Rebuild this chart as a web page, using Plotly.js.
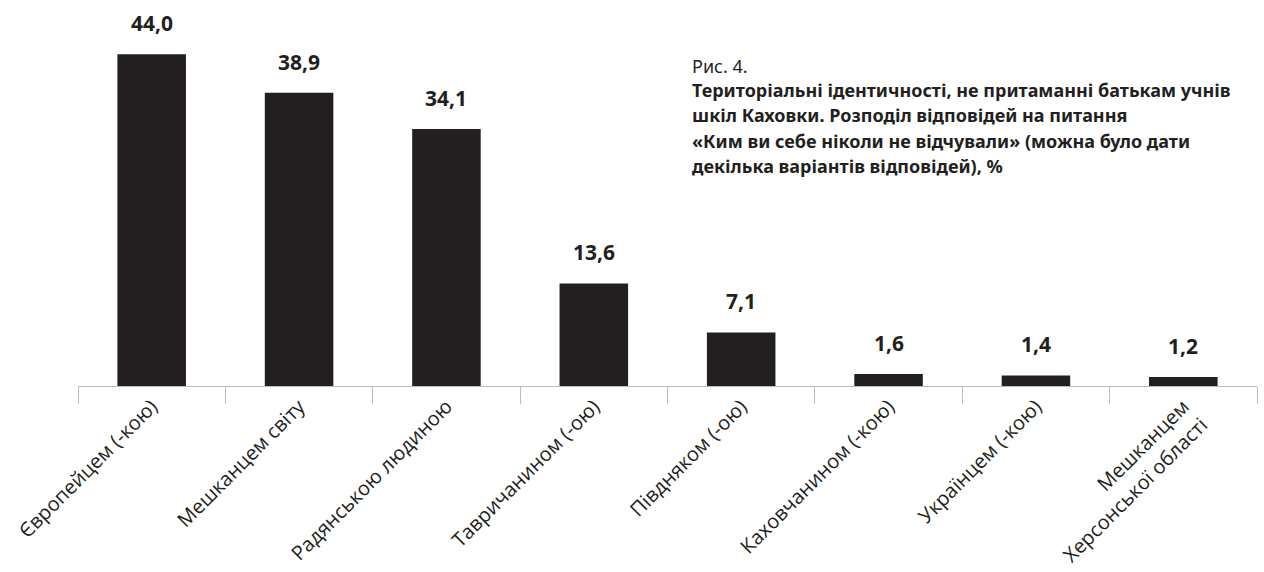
<!DOCTYPE html>
<html><head><meta charset="utf-8">
<script src="https://cdn.plot.ly/plotly-3.0.1.min.js"></script>
<style>body{margin:0;background:#fff}#chart{width:1264px;height:572px}</style>
</head><body><div id="chart"></div>
<script>
const categories = ["Європейцем (-кою)","Мешканцем світу","Радянською людиною","Тавричанином (-ою)","Півднякoм (-ою)".replace("o","\u043e"),"Каховчанином (-кою)","Українцем (-кою)","Мешканцем<br>Херсонської області"];
const values = [44.0, 38.9, 34.1, 13.6, 7.1, 1.6, 1.4, 1.2];
const valueLabels = ["44,0","38,9","34,1","13,6","7,1","1,6","1,4","1,2"];
const titleLines = ["Рис. 4.", "<b>Територіальні ідентичності, не притаманні батькам учнів</b>", "<b>шкіл Каховки. Розподіл відповідей на питання</b>", "<b>«Ким ви себе ніколи не відчували» (можна було дати</b>", "<b>декілька варіантів відповідей), %</b>"];

const dark = "#231f20";
const trace = {type:"bar", x:categories, y:values, marker:{color:dark}, width:0.465, hoverinfo:"none"};
const annotations = categories.map((c,i)=>({x:c, y:values[i], xref:"x", yref:"y", text:"<b>"+valueLabels[i]+"</b>", showarrow:false, yanchor:"bottom", yshift:15, font:{family:"Noto Sans", size:21, color:dark}}));
titleLines.forEach((t,i)=>annotations.push({xref:"paper", yref:"paper", x:0.519, y:0.885, yshift:-25.5*i + (i>0?2:0), xanchor:"left", yanchor:"top", align:"left", showarrow:false, text:t, font:{family:"Noto Sans", size:18, color:dark}}));
const layout = {
  width:1264, height:572, margin:{l:78, r:7, t:9, b:186},
  paper_bgcolor:"#fff", plot_bgcolor:"#fff", showlegend:false,
  xaxis:{type:"category", tickangle:-45, showline:true, linecolor:"#bdbdbd", linewidth:1, ticks:"outside", tickson:"boundaries", ticklen:17, tickcolor:"#bdbdbd", tickfont:{family:"Open Sans", size:20, color:dark}, showgrid:false},
  yaxis:{range:[0,50], visible:false, showgrid:false, zeroline:false},
  annotations:annotations
};
Plotly.newPlot("chart",[trace],layout,{staticPlot:true});
</script></body></html>
